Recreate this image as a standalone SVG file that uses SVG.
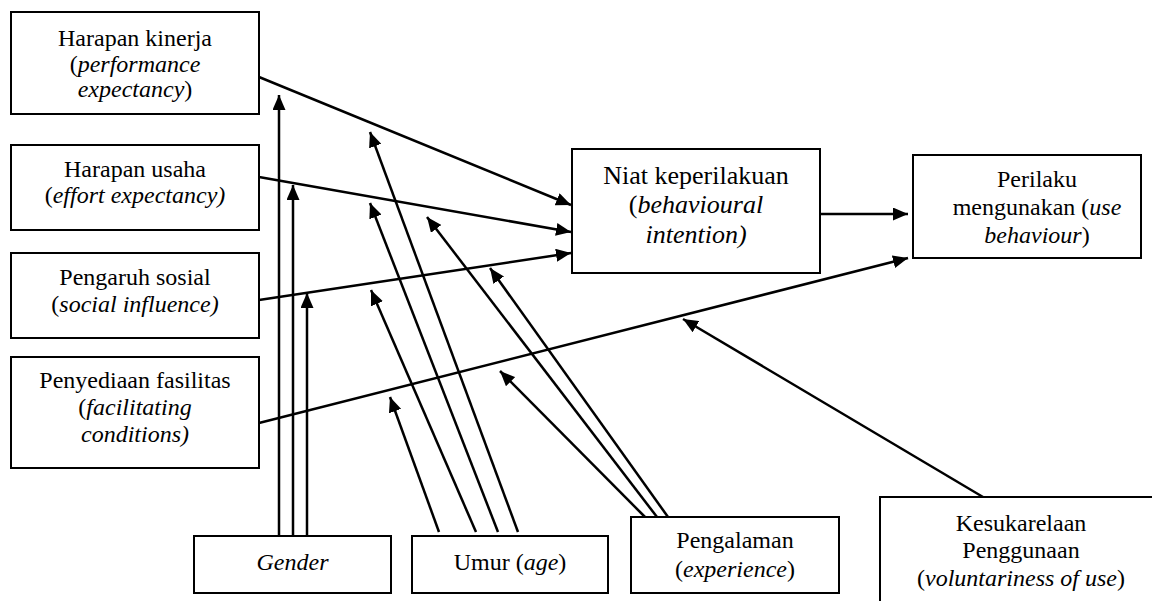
<svg xmlns="http://www.w3.org/2000/svg" width="1152" height="601" viewBox="0 0 1152 601">
<style>
.box{fill:#fff;stroke:#000;stroke-width:2}
text{font-family:'Liberation Serif','Times New Roman',serif;font-size:24px;fill:#000;text-anchor:middle}
.i{font-style:italic}
.big{font-size:26px}
.c{stroke:#000;stroke-width:2.5;fill:none;marker-end:url(#ah)}
</style>
<defs>
<marker id="ah" markerUnits="userSpaceOnUse" markerWidth="15" markerHeight="13" refX="15" refY="6.5" orient="auto">
<path d="M0,0 L15,6.5 L0,13 z" fill="#000"/>
</marker>
</defs>
<rect width="1152" height="601" fill="#fff"/>
<g id="connectors">
<line class="c" x1="259" y1="77" x2="571" y2="205"/>
<line class="c" x1="259" y1="177" x2="571" y2="232"/>
<line class="c" x1="259" y1="300" x2="571" y2="253"/>
<line class="c" x1="259" y1="423" x2="908" y2="258"/>
<line class="c" x1="820" y1="214" x2="908" y2="214"/>
<line class="c" x1="279" y1="536" x2="279" y2="95"/>
<line class="c" x1="293" y1="536" x2="293" y2="185"/>
<line class="c" x1="307" y1="536" x2="307" y2="293"/>
<line class="c" x1="439" y1="532" x2="390" y2="397"/>
<line class="c" x1="476" y1="532" x2="371" y2="290"/>
<line class="c" x1="498" y1="532" x2="370" y2="203"/>
<line class="c" x1="518" y1="532" x2="370" y2="132"/>
<line class="c" x1="645" y1="517" x2="500" y2="371"/>
<line class="c" x1="657" y1="517" x2="427" y2="217"/>
<line class="c" x1="668" y1="517" x2="490" y2="268"/>
<line class="c" x1="983" y1="497" x2="683" y2="319"/>
</g>
<g id="n1"><rect class="box" x="11" y="12" width="248" height="102"/>
<text x="135" y="46">Harapan kinerja</text>
<text x="135" y="72">(<tspan class="i">performance</tspan></text>
<text x="135" y="97"><tspan class="i">expectancy</tspan>)</text></g>
<g id="n2"><rect class="box" x="11" y="145" width="248" height="85"/>
<text x="135" y="177">Harapan usaha</text>
<text x="135" y="203">(<tspan class="i">effort expectancy)</tspan></text></g>
<g id="n3"><rect class="box" x="11" y="253" width="248" height="85"/>
<text x="135" y="285">Pengaruh sosial</text>
<text x="135" y="312">(<tspan class="i">social influence)</tspan></text></g>
<g id="n4"><rect class="box" x="11" y="357" width="248" height="111"/>
<text x="135" y="388">Penyediaan fasilitas</text>
<text x="135" y="415">(<tspan class="i">facilitating</tspan></text>
<text x="135" y="442"><tspan class="i">conditions)</tspan></text></g>
<g id="niat"><rect class="box" x="572" y="149" width="248" height="124"/>
<text class="big" x="696" y="184">Niat keperilakuan</text>
<text class="big" x="696" y="213">(<tspan class="i">behavioural</tspan></text>
<text class="big" x="696" y="243"><tspan class="i">intention)</tspan></text></g>
<g id="perilaku"><rect class="box" x="913" y="155" width="228" height="103"/>
<text x="1037" y="187">Perilaku</text>
<text x="1037" y="215">mengunakan (<tspan class="i">use</tspan></text>
<text x="1037" y="243"><tspan class="i">behaviour</tspan>)</text></g>
<g id="gender"><rect class="box" x="194" y="536" width="197" height="57"/>
<text class="i" x="292.5" y="570">Gender</text></g>
<g id="umur"><rect class="box" x="412" y="536" width="196" height="57"/>
<text x="510" y="570">Umur (<tspan class="i">age</tspan>)</text></g>
<g id="pengalaman"><rect class="box" x="631" y="517" width="208" height="76"/>
<text x="735" y="548">Pengalaman</text>
<text x="735" y="577">(<tspan class="i">experience</tspan>)</text></g>
<g id="kesukarelaan"><rect class="box" x="880" y="497" width="290" height="120"/>
<text x="1021" y="531">Kesukarelaan</text>
<text x="1021" y="558">Penggunaan</text>
<text x="1021" y="586">(<tspan class="i">voluntariness of use</tspan>)</text></g>
</svg>
